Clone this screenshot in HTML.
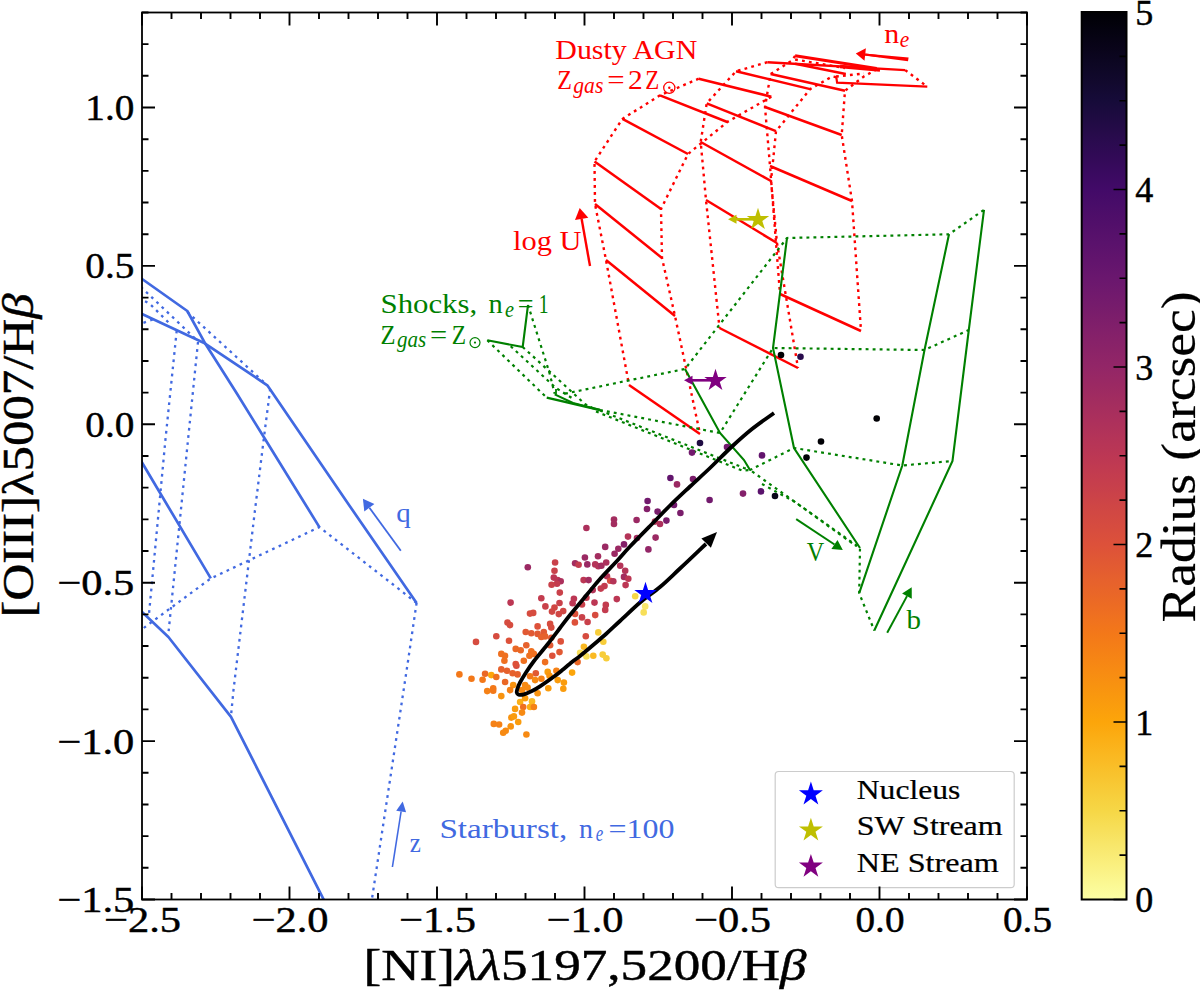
<!DOCTYPE html>
<html><head><meta charset="utf-8"><title>BPT diagram</title>
<style>html,body{margin:0;padding:0;background:#fff;}body{width:1200px;height:990px;overflow:hidden;font-family:"Liberation Serif",serif;}svg text{font-family:"Liberation Serif",serif;}</style></head>
<body>
<svg width="1200" height="990" viewBox="0 0 1200 990" font-family='"Liberation Serif", serif' style="display:block">
<defs><clipPath id="ax"><rect x="142.0" y="12.5" width="885.0" height="887.0"/></clipPath></defs>
<g clip-path="url(#ax)">
<polyline points="120.0,263.3 141.4,278.5 187.3,311.0 204.7,342.7 236.7,393.3 265.0,439.0 319.4,527.1" fill="none" stroke="#4169E1" stroke-width="2.7" stroke-linecap="butt" stroke-linejoin="round" />
<polyline points="120.0,303.7 142.0,314.0 204.7,343.3 267.3,385.3 349.7,506.0 416.6,602.9" fill="none" stroke="#4169E1" stroke-width="2.7" stroke-linecap="butt" stroke-linejoin="round" />
<polyline points="120.0,425.5 141.4,461.5 210.8,578.4" fill="none" stroke="#4169E1" stroke-width="2.7" stroke-linecap="butt" stroke-linejoin="round" />
<polyline points="128.0,600.0 142.3,612.2 168.4,637.0 231.0,716.8 323.2,898.6 334.0,920.0" fill="none" stroke="#4169E1" stroke-width="2.7" stroke-linecap="butt" stroke-linejoin="round" />
<polyline points="187.3,312.0 267.3,385.3" fill="none" stroke="#4169E1" stroke-width="2.3" stroke-dasharray="2.7 4.5" stroke-linecap="butt" stroke-linejoin="round" />
<polyline points="120.0,267.0 142.0,288.0 198.0,341.3" fill="none" stroke="#4169E1" stroke-width="2.3" stroke-dasharray="2.7 4.5" stroke-linecap="butt" stroke-linejoin="round" />
<polyline points="120.0,287.0 150.0,304.0 171.0,325.0" fill="none" stroke="#4169E1" stroke-width="2.3" stroke-dasharray="2.7 4.5" stroke-linecap="butt" stroke-linejoin="round" />
<polyline points="130.0,328.0 142.0,323.3 156.0,318.4" fill="none" stroke="#4169E1" stroke-width="2.3" stroke-dasharray="2.7 4.5" stroke-linecap="butt" stroke-linejoin="round" />
<polyline points="176.7,330.7 165.4,440.0 149.0,614.0" fill="none" stroke="#4169E1" stroke-width="2.3" stroke-dasharray="2.7 4.5" stroke-linecap="butt" stroke-linejoin="round" />
<polyline points="198.0,342.0 188.0,440.0 168.2,635.5" fill="none" stroke="#4169E1" stroke-width="2.3" stroke-dasharray="2.7 4.5" stroke-linecap="butt" stroke-linejoin="round" />
<polyline points="270.2,388.8 264.0,437.0 255.0,510.0 233.5,690.0 231.0,716.0" fill="none" stroke="#4169E1" stroke-width="2.3" stroke-dasharray="2.7 4.5" stroke-linecap="butt" stroke-linejoin="round" />
<polyline points="416.6,602.9 319.4,527.1 210.8,578.4 145.0,627.0 130.0,640.0" fill="none" stroke="#4169E1" stroke-width="2.3" stroke-dasharray="2.7 4.5" stroke-linecap="butt" stroke-linejoin="round" />
<polyline points="416.6,602.9 407.8,662.5 372.4,896.0 368.8,920.0" fill="none" stroke="#4169E1" stroke-width="2.3" stroke-dasharray="2.7 4.5" stroke-linecap="butt" stroke-linejoin="round" />
<polyline points="698.7,78.7 660.0,95.3 622.4,118.9 594.5,161.5 595.0,204.0 606.0,260.0 629.0,385.0" fill="none" stroke="#FF0000" stroke-width="2.4" stroke-dasharray="2.8 4.2" stroke-linecap="butt" stroke-linejoin="round" />
<polyline points="771.3,96.7 727.3,122.0 688.0,154.0 661.0,209.0 662.0,258.0 675.0,316.0 700.0,434.0" fill="none" stroke="#FF0000" stroke-width="2.4" stroke-dasharray="2.8 4.2" stroke-linecap="butt" stroke-linejoin="round" />
<polyline points="767.4,62.2 736.0,71.3 706.7,103.3 700.7,142.0 706.0,200.0 719.5,328.0" fill="none" stroke="#FF0000" stroke-width="2.4" stroke-dasharray="2.8 4.2" stroke-linecap="butt" stroke-linejoin="round" />
<polyline points="836.3,77.2 832.3,76.4 810.2,89.1 776.0,131.2 771.0,181.0 777.0,243.0 798.0,368.0" fill="none" stroke="#FF0000" stroke-width="2.4" stroke-dasharray="2.8 4.2" stroke-linecap="butt" stroke-linejoin="round" />
<polyline points="795.1,55.8 792.0,60.6 770.6,74.0 765.0,107.0 770.0,166.0 780.0,294.0" fill="none" stroke="#FF0000" stroke-width="2.4" stroke-dasharray="2.8 4.2" stroke-linecap="butt" stroke-linejoin="round" />
<polyline points="876.7,69.3 864.0,76.4 845.0,90.7 841.7,135.0 852.0,201.0 861.0,331.0" fill="none" stroke="#FF0000" stroke-width="2.4" stroke-dasharray="2.8 4.2" stroke-linecap="butt" stroke-linejoin="round" />
<polyline points="905.2,70.1 927.3,86.7" fill="none" stroke="#FF0000" stroke-width="2.4" stroke-dasharray="2.8 4.2" stroke-linecap="butt" stroke-linejoin="round" />
<polyline points="795.1,59.5 845.0,68.0" fill="none" stroke="#FF0000" stroke-width="2.4" stroke-dasharray="2.8 4.2" stroke-linecap="butt" stroke-linejoin="round" />
<polyline points="836.0,76.5 864.0,73.5" fill="none" stroke="#FF0000" stroke-width="2.4" stroke-dasharray="2.8 4.2" stroke-linecap="butt" stroke-linejoin="round" />
<polyline points="698.7,78.7 771.3,96.7" fill="none" stroke="#FF0000" stroke-width="2.5" stroke-linecap="butt" stroke-linejoin="round" />
<polyline points="660.0,95.3 727.3,122.0" fill="none" stroke="#FF0000" stroke-width="2.5" stroke-linecap="butt" stroke-linejoin="round" />
<polyline points="622.4,118.9 688.0,154.0" fill="none" stroke="#FF0000" stroke-width="2.5" stroke-linecap="butt" stroke-linejoin="round" />
<polyline points="594.5,161.5 661.0,209.0" fill="none" stroke="#FF0000" stroke-width="2.5" stroke-linecap="butt" stroke-linejoin="round" />
<polyline points="595.0,204.0 662.0,258.0" fill="none" stroke="#FF0000" stroke-width="2.5" stroke-linecap="butt" stroke-linejoin="round" />
<polyline points="606.0,260.0 675.0,316.0" fill="none" stroke="#FF0000" stroke-width="2.5" stroke-linecap="butt" stroke-linejoin="round" />
<polyline points="629.0,385.0 700.0,434.0" fill="none" stroke="#FF0000" stroke-width="2.5" stroke-linecap="butt" stroke-linejoin="round" />
<polyline points="736.0,71.3 810.2,89.1" fill="none" stroke="#FF0000" stroke-width="2.5" stroke-linecap="butt" stroke-linejoin="round" />
<polyline points="706.7,103.3 776.0,131.2" fill="none" stroke="#FF0000" stroke-width="2.5" stroke-linecap="butt" stroke-linejoin="round" />
<polyline points="700.7,142.0 771.0,181.0" fill="none" stroke="#FF0000" stroke-width="2.5" stroke-linecap="butt" stroke-linejoin="round" />
<polyline points="706.0,200.0 777.0,243.0" fill="none" stroke="#FF0000" stroke-width="2.5" stroke-linecap="butt" stroke-linejoin="round" />
<polyline points="719.5,328.0 798.0,368.0" fill="none" stroke="#FF0000" stroke-width="2.5" stroke-linecap="butt" stroke-linejoin="round" />
<polyline points="770.6,74.0 845.0,90.7" fill="none" stroke="#FF0000" stroke-width="2.5" stroke-linecap="butt" stroke-linejoin="round" />
<polyline points="765.0,107.0 841.7,135.0" fill="none" stroke="#FF0000" stroke-width="2.5" stroke-linecap="butt" stroke-linejoin="round" />
<polyline points="770.0,166.0 852.0,201.0" fill="none" stroke="#FF0000" stroke-width="2.5" stroke-linecap="butt" stroke-linejoin="round" />
<polyline points="780.0,294.0 861.0,331.0" fill="none" stroke="#FF0000" stroke-width="2.5" stroke-linecap="butt" stroke-linejoin="round" />
<polyline points="795.1,55.8 876.7,68.5" fill="none" stroke="#FF0000" stroke-width="3.0" stroke-linecap="butt" stroke-linejoin="round" />
<polyline points="767.4,62.2 905.2,70.1" fill="none" stroke="#FF0000" stroke-width="2.4" stroke-linecap="butt" stroke-linejoin="round" />
<polyline points="795.1,63.7 845.8,74.0" fill="none" stroke="#FF0000" stroke-width="2.4" stroke-linecap="butt" stroke-linejoin="round" />
<polyline points="836.3,77.2 837.1,82.7 927.3,86.7" fill="none" stroke="#FF0000" stroke-width="2.2" stroke-linecap="butt" stroke-linejoin="miter" />
<polyline points="840.0,66.5 880.0,70.0" fill="none" stroke="#FF0000" stroke-width="3.5" stroke-linecap="butt" stroke-linejoin="round" />
<polyline points="528.0,305.0 549.3,372.3 554.7,393.7" fill="none" stroke="#008000" stroke-width="2.2" stroke-dasharray="2.9 4.1" stroke-linecap="butt" stroke-linejoin="round" />
<polyline points="565.0,393.7 629.3,380.3 685.0,369.0 787.0,238.0 949.0,234.3 984.0,209.8" fill="none" stroke="#008000" stroke-width="2.2" stroke-dasharray="2.9 4.1" stroke-linecap="butt" stroke-linejoin="round" />
<polyline points="522.7,347.0 552.0,373.7 585.3,404.3 596.0,409.7" fill="none" stroke="#008000" stroke-width="2.2" stroke-dasharray="2.9 4.1" stroke-linecap="butt" stroke-linejoin="round" />
<polyline points="600.0,410.0 720.0,433.0 773.0,348.0 924.5,350.0 968.8,330.0" fill="none" stroke="#008000" stroke-width="2.2" stroke-dasharray="2.9 4.1" stroke-linecap="butt" stroke-linejoin="round" />
<polyline points="510.7,346.3 556.0,388.0 575.0,400.0" fill="none" stroke="#008000" stroke-width="2.2" stroke-dasharray="2.9 4.1" stroke-linecap="butt" stroke-linejoin="round" />
<polyline points="600.0,410.5 744.0,468.0 750.0,470.0 794.0,448.0 902.3,465.5 952.5,461.0" fill="none" stroke="#008000" stroke-width="2.2" stroke-dasharray="2.9 4.1" stroke-linecap="butt" stroke-linejoin="round" />
<polyline points="487.3,340.3 545.3,396.3" fill="none" stroke="#008000" stroke-width="2.2" stroke-dasharray="2.9 4.1" stroke-linecap="butt" stroke-linejoin="round" />
<polyline points="596.0,411.5 742.0,470.5 750.0,470.0 860.0,548.0 859.2,593.2 874.3,630.5" fill="none" stroke="#008000" stroke-width="2.2" stroke-dasharray="2.9 4.1" stroke-linecap="butt" stroke-linejoin="round" />
<polyline points="762.0,484.0 795.0,502.0 856.0,546.0" fill="none" stroke="#008000" stroke-width="2.2" stroke-dasharray="2.9 4.1" stroke-linecap="butt" stroke-linejoin="round" />
<polyline points="487.3,340.3 522.7,347.0 528.0,305.0" fill="none" stroke="#008000" stroke-width="2.1" stroke-linecap="butt" stroke-linejoin="miter" />
<polyline points="685.0,369.0 720.0,433.0 744.0,460.0 750.0,470.0" fill="none" stroke="#008000" stroke-width="2.1" stroke-linecap="butt" stroke-linejoin="miter" />
<polyline points="787.0,238.0 773.0,348.0 794.0,448.0 860.0,548.0" fill="none" stroke="#008000" stroke-width="2.1" stroke-linecap="butt" stroke-linejoin="miter" />
<polyline points="949.0,234.3 924.5,350.0 902.3,465.5 859.2,593.2" fill="none" stroke="#008000" stroke-width="2.1" stroke-linecap="butt" stroke-linejoin="miter" />
<polyline points="984.0,209.8 968.8,330.0 952.5,461.0 874.3,630.5" fill="none" stroke="#008000" stroke-width="2.1" stroke-linecap="butt" stroke-linejoin="miter" />
<polyline points="546.7,397.7 600.0,410.0" fill="none" stroke="#008000" stroke-width="2.4" stroke-linecap="butt" stroke-linejoin="round" />
<polyline points="554.7,394.3 573.0,403.0 600.0,410.0" fill="none" stroke="#008000" stroke-width="2.0" stroke-linecap="butt" stroke-linejoin="round" />
<polyline points="556.0,389.0 556.0,394.5" fill="none" stroke="#008000" stroke-width="1.8" stroke-linecap="butt" stroke-linejoin="round" />
</g>
<line x1="400.8" y1="550.8" x2="369.4" y2="507.7" stroke="#4169E1" stroke-width="1.8"/>
<polygon points="362.9,498.8 374.4,504.0 364.3,511.4" fill="#4169E1"/>
<line x1="392.4" y1="867.0" x2="401.1" y2="811.5" stroke="#4169E1" stroke-width="1.6"/>
<polygon points="402.7,801.6 406.1,812.3 396.2,810.7" fill="#4169E1"/>
<line x1="590.0" y1="266.0" x2="581.6" y2="218.8" stroke="#FF0000" stroke-width="2.4"/>
<polygon points="579.7,208.0 588.3,217.7 575.0,220.0" fill="#FF0000"/>
<line x1="880.0" y1="56.2" x2="865.2" y2="54.6" stroke="#FF0000" stroke-width="2.0"/>
<polygon points="855.8,53.5 865.9,48.3 864.5,60.8" fill="#FF0000"/>
<polygon points="864,53.4 908.6,57.5 908,61.3 864,55.6" fill="#FF0000"/>
<line x1="796.2" y1="519.2" x2="834.5" y2="544.5" stroke="#008000" stroke-width="2.0"/>
<polygon points="842.8,550.0 831.4,549.1 837.5,539.9" fill="#008000"/>
<line x1="887.2" y1="632.8" x2="907.0" y2="596.1" stroke="#008000" stroke-width="2.0"/>
<polygon points="911.7,587.3 911.8,598.7 902.1,593.5" fill="#008000"/>
<text x="555.3" y="58.7" font-size="27.5" fill="#FF0000" stroke="#FF0000" stroke-width="0.00" text-anchor="start" textLength="142.0" lengthAdjust="spacingAndGlyphs" >Dusty AGN</text>
<text x="557.3" y="89.3" font-size="27.5" fill="#FF0000" stroke="#FF0000" stroke-width="0.00" text-anchor="start" textLength="14.7" lengthAdjust="spacingAndGlyphs" >Z</text>
<text x="573.3" y="92.9" font-size="23.5" fill="#FF0000" stroke="#FF0000" stroke-width="0.00" text-anchor="start" textLength="30.0" lengthAdjust="spacingAndGlyphs" font-style="italic" >gas</text>
<text x="607.3" y="89.3" font-size="27.5" fill="#FF0000" stroke="#FF0000" stroke-width="0.00" text-anchor="start" textLength="17.4" lengthAdjust="spacingAndGlyphs" >=</text>
<text x="628.0" y="89.3" font-size="27.5" fill="#FF0000" stroke="#FF0000" stroke-width="0.00" text-anchor="start" textLength="14.7" lengthAdjust="spacingAndGlyphs" >2</text>
<text x="645.3" y="89.3" font-size="27.5" fill="#FF0000" stroke="#FF0000" stroke-width="0.00" text-anchor="start" textLength="14.0" lengthAdjust="spacingAndGlyphs" >Z</text>
<circle cx="669.3" cy="87.8" r="5.6" fill="none" stroke="#FF0000" stroke-width="1.3"/>
<circle cx="669.3" cy="87.8" r="1.2" fill="#FF0000"/>
<text x="380.5" y="313.0" font-size="27.5" fill="#008000" stroke="#008000" stroke-width="0.00" text-anchor="start" textLength="96.7" lengthAdjust="spacingAndGlyphs" >Shocks,</text>
<text x="488.5" y="313.0" font-size="27.5" fill="#008000" stroke="#008000" stroke-width="0.00" text-anchor="start" textLength="14.2" lengthAdjust="spacingAndGlyphs" >n</text>
<text x="505.0" y="316.9" font-size="23.5" fill="#008000" stroke="#008000" stroke-width="0.00" text-anchor="start" textLength="9.0" lengthAdjust="spacingAndGlyphs" font-style="italic" >e</text>
<text x="517.7" y="313.0" font-size="27.5" fill="#008000" stroke="#008000" stroke-width="0.00" text-anchor="start" textLength="15.8" lengthAdjust="spacingAndGlyphs" >=</text>
<text x="538.7" y="313.0" font-size="27.5" fill="#008000" stroke="#008000" stroke-width="0.00" text-anchor="start" textLength="9.8" lengthAdjust="spacingAndGlyphs" >1</text>
<text x="380.5" y="343.7" font-size="27.5" fill="#008000" stroke="#008000" stroke-width="0.00" text-anchor="start" textLength="15.0" lengthAdjust="spacingAndGlyphs" >Z</text>
<text x="397.0" y="347.3" font-size="23.5" fill="#008000" stroke="#008000" stroke-width="0.00" text-anchor="start" textLength="29.2" lengthAdjust="spacingAndGlyphs" font-style="italic" >gas</text>
<text x="430.0" y="343.7" font-size="27.5" fill="#008000" stroke="#008000" stroke-width="0.00" text-anchor="start" textLength="17.2" lengthAdjust="spacingAndGlyphs" >=</text>
<text x="451.7" y="343.7" font-size="27.5" fill="#008000" stroke="#008000" stroke-width="0.00" text-anchor="start" textLength="14.3" lengthAdjust="spacingAndGlyphs" >Z</text>
<circle cx="475.0" cy="342.6" r="5.0" fill="none" stroke="#008000" stroke-width="1.2"/>
<circle cx="475.0" cy="342.6" r="1.1" fill="#008000"/>
<text x="513.0" y="250.0" font-size="27.5" fill="#FF0000" stroke="#FF0000" stroke-width="0.00" text-anchor="start" textLength="68.5" lengthAdjust="spacingAndGlyphs" >log U</text>
<text x="884.2" y="43.3" font-size="27.5" fill="#FF0000" stroke="#FF0000" stroke-width="0.00" text-anchor="start" textLength="15.0" lengthAdjust="spacingAndGlyphs" >n</text>
<text x="899.7" y="46.5" font-size="23.5" fill="#FF0000" stroke="#FF0000" stroke-width="0.00" text-anchor="start" textLength="9.5" lengthAdjust="spacingAndGlyphs" font-style="italic" >e</text>
<text x="806.7" y="560.5" font-size="27.5" fill="#008000" stroke="#008000" stroke-width="0.00" text-anchor="start" textLength="17.5" lengthAdjust="spacingAndGlyphs" >V</text>
<text x="906.5" y="629.3" font-size="27.5" fill="#008000" stroke="#008000" stroke-width="0.00" text-anchor="start" textLength="14.5" lengthAdjust="spacingAndGlyphs" >b</text>
<text x="396.3" y="522.0" font-size="27.5" fill="#4169E1" stroke="#4169E1" stroke-width="0.00" text-anchor="start" textLength="14.5" lengthAdjust="spacingAndGlyphs" >q</text>
<text x="409.7" y="851.5" font-size="27.5" fill="#4169E1" stroke="#4169E1" stroke-width="0.00" text-anchor="start" textLength="11.1" lengthAdjust="spacingAndGlyphs" >z</text>
<text x="439.4" y="837.8" font-size="27.5" fill="#4169E1" stroke="#4169E1" stroke-width="0.00" text-anchor="start" textLength="127.9" lengthAdjust="spacingAndGlyphs" >Starburst,</text>
<text x="579.0" y="837.8" font-size="27.5" fill="#4169E1" stroke="#4169E1" stroke-width="0.00" text-anchor="start" textLength="14.0" lengthAdjust="spacingAndGlyphs" >n</text>
<text x="595.7" y="840.6" font-size="23.5" fill="#4169E1" stroke="#4169E1" stroke-width="0.00" text-anchor="start" textLength="7.5" lengthAdjust="spacingAndGlyphs" font-style="italic" >e</text>
<text x="608.6" y="837.8" font-size="27.5" fill="#4169E1" stroke="#4169E1" stroke-width="0.00" text-anchor="start" textLength="65.9" lengthAdjust="spacingAndGlyphs" >=100</text>
<g>
<circle cx="700.0" cy="443.0" r="3.3" fill="#1f0b42"/>
<circle cx="692.0" cy="452.6" r="3.3" fill="#721a6d"/>
<circle cx="727.0" cy="447.0" r="3.3" fill="#721a6d"/>
<circle cx="762.0" cy="455.4" r="3.3" fill="#62146d"/>
<circle cx="670.4" cy="478.0" r="3.3" fill="#62146d"/>
<circle cx="677.0" cy="484.4" r="3.3" fill="#9b2963"/>
<circle cx="693.0" cy="479.0" r="3.3" fill="#7a1d6b"/>
<circle cx="743.0" cy="493.6" r="3.3" fill="#83206a"/>
<circle cx="761.0" cy="491.4" r="3.3" fill="#5a126c"/>
<circle cx="775.0" cy="496.0" r="3.3" fill="#090419"/>
<circle cx="709.6" cy="500.0" r="3.3" fill="#721a6d"/>
<circle cx="647.6" cy="501.0" r="3.3" fill="#721a6d"/>
<circle cx="647.0" cy="509.0" r="3.3" fill="#83206a"/>
<circle cx="657.6" cy="511.6" r="3.3" fill="#7a1d6b"/>
<circle cx="674.0" cy="505.0" r="3.3" fill="#721a6d"/>
<circle cx="680.4" cy="513.0" r="3.3" fill="#7a1d6b"/>
<circle cx="666.4" cy="520.6" r="3.3" fill="#7a1d6b"/>
<circle cx="660.0" cy="524.0" r="3.3" fill="#ac305c"/>
<circle cx="655.0" cy="521.6" r="3.3" fill="#b43458"/>
<circle cx="636.6" cy="520.0" r="3.3" fill="#9b2963"/>
<circle cx="614.0" cy="519.6" r="3.3" fill="#a32d5f"/>
<circle cx="614.0" cy="524.0" r="3.3" fill="#a32d5f"/>
<circle cx="586.4" cy="528.0" r="3.3" fill="#ac305c"/>
<circle cx="628.0" cy="536.6" r="3.3" fill="#b43458"/>
<circle cx="637.0" cy="538.0" r="3.3" fill="#a32d5f"/>
<circle cx="655.6" cy="537.6" r="3.3" fill="#9b2963"/>
<circle cx="496.3" cy="636.3" r="3.3" fill="#d64c3f"/>
<circle cx="476.0" cy="641.9" r="3.3" fill="#d64c3f"/>
<circle cx="516.4" cy="665.7" r="3.3" fill="#d64c3f"/>
<circle cx="501.3" cy="669.4" r="3.3" fill="#e6612d"/>
<circle cx="507.0" cy="670.7" r="3.3" fill="#e6612d"/>
<circle cx="512.6" cy="673.2" r="3.3" fill="#e6612d"/>
<circle cx="517.6" cy="674.4" r="3.3" fill="#e6612d"/>
<circle cx="485.1" cy="673.8" r="3.3" fill="#ea6826"/>
<circle cx="491.3" cy="675.1" r="3.3" fill="#fca50a"/>
<circle cx="496.3" cy="677.0" r="3.3" fill="#ef7020"/>
<circle cx="459.4" cy="674.4" r="3.3" fill="#f37819"/>
<circle cx="471.5" cy="678.8" r="3.3" fill="#f37819"/>
<circle cx="482.6" cy="679.8" r="3.3" fill="#f37819"/>
<circle cx="505.1" cy="682.0" r="3.3" fill="#ea6826"/>
<circle cx="535.8" cy="673.2" r="3.3" fill="#e15933"/>
<circle cx="530.1" cy="676.3" r="3.3" fill="#f37819"/>
<circle cx="541.4" cy="678.8" r="3.3" fill="#f58116"/>
<circle cx="535.1" cy="680.1" r="3.3" fill="#f78a13"/>
<circle cx="547.7" cy="671.9" r="3.3" fill="#fa9c0d"/>
<circle cx="549.5" cy="675.7" r="3.3" fill="#f89310"/>
<circle cx="556.4" cy="670.7" r="3.3" fill="#f58116"/>
<circle cx="572.1" cy="672.6" r="3.3" fill="#fca50a"/>
<circle cx="557.7" cy="680.1" r="3.3" fill="#fa9c0d"/>
<circle cx="563.9" cy="682.6" r="3.3" fill="#fa9c0d"/>
<circle cx="563.3" cy="688.8" r="3.3" fill="#fa9c0d"/>
<circle cx="548.3" cy="688.2" r="3.3" fill="#fa9c0d"/>
<circle cx="513.2" cy="685.1" r="3.3" fill="#f89310"/>
<circle cx="510.1" cy="690.1" r="3.3" fill="#f58116"/>
<circle cx="493.2" cy="688.2" r="3.3" fill="#f37819"/>
<circle cx="487.2" cy="691.1" r="3.3" fill="#f58116"/>
<circle cx="493.2" cy="690.7" r="3.3" fill="#f37819"/>
<circle cx="501.3" cy="696.1" r="3.3" fill="#f89310"/>
<circle cx="525.1" cy="685.1" r="3.3" fill="#f78a13"/>
<circle cx="527.6" cy="687.6" r="3.3" fill="#f78a13"/>
<circle cx="522.0" cy="690.1" r="3.3" fill="#f78a13"/>
<circle cx="537.6" cy="693.2" r="3.3" fill="#f89310"/>
<circle cx="520.1" cy="702.0" r="3.3" fill="#fbaf16"/>
<circle cx="525.1" cy="698.2" r="3.3" fill="#fa9c0d"/>
<circle cx="532.0" cy="701.4" r="3.3" fill="#fab922"/>
<circle cx="530.1" cy="707.0" r="3.3" fill="#fbaf16"/>
<circle cx="533.9" cy="707.0" r="3.3" fill="#f58116"/>
<circle cx="523.2" cy="707.0" r="3.3" fill="#ef7020"/>
<circle cx="515.1" cy="708.9" r="3.3" fill="#fa9c0d"/>
<circle cx="522.0" cy="712.6" r="3.3" fill="#f78a13"/>
<circle cx="511.3" cy="717.6" r="3.3" fill="#f89310"/>
<circle cx="513.9" cy="716.4" r="3.3" fill="#fa9c0d"/>
<circle cx="518.2" cy="722.0" r="3.3" fill="#fa9c0d"/>
<circle cx="493.8" cy="723.9" r="3.3" fill="#f58116"/>
<circle cx="499.1" cy="724.5" r="3.3" fill="#f58116"/>
<circle cx="510.7" cy="726.4" r="3.3" fill="#f89310"/>
<circle cx="505.7" cy="730.8" r="3.3" fill="#f78a13"/>
<circle cx="503.2" cy="732.7" r="3.3" fill="#f78a13"/>
<circle cx="526.4" cy="734.5" r="3.3" fill="#f78a13"/>
<circle cx="527.8" cy="567.3" r="3.3" fill="#9b2963"/>
<circle cx="605.2" cy="546.9" r="3.3" fill="#9b2963"/>
<circle cx="624.0" cy="544.4" r="3.3" fill="#83206a"/>
<circle cx="618.3" cy="548.8" r="3.3" fill="#9b2963"/>
<circle cx="614.6" cy="553.8" r="3.3" fill="#9b2963"/>
<circle cx="648.4" cy="549.4" r="3.3" fill="#932667"/>
<circle cx="584.9" cy="557.5" r="3.3" fill="#9b2963"/>
<circle cx="598.0" cy="556.3" r="3.3" fill="#a32d5f"/>
<circle cx="575.1" cy="563.2" r="3.3" fill="#a32d5f"/>
<circle cx="578.6" cy="564.8" r="3.3" fill="#c33c4f"/>
<circle cx="587.3" cy="564.4" r="3.3" fill="#9b2963"/>
<circle cx="595.2" cy="564.4" r="3.3" fill="#b43458"/>
<circle cx="598.3" cy="566.3" r="3.3" fill="#b43458"/>
<circle cx="601.4" cy="565.7" r="3.3" fill="#a32d5f"/>
<circle cx="606.2" cy="562.5" r="3.3" fill="#ac305c"/>
<circle cx="555.1" cy="562.5" r="3.3" fill="#c9414a"/>
<circle cx="554.5" cy="570.7" r="3.3" fill="#c9414a"/>
<circle cx="620.2" cy="565.7" r="3.3" fill="#b43458"/>
<circle cx="625.2" cy="570.7" r="3.3" fill="#b43458"/>
<circle cx="624.0" cy="576.9" r="3.3" fill="#a32d5f"/>
<circle cx="628.3" cy="578.8" r="3.3" fill="#bc3754"/>
<circle cx="625.6" cy="585.1" r="3.3" fill="#bc3754"/>
<circle cx="607.0" cy="576.3" r="3.3" fill="#b43458"/>
<circle cx="610.2" cy="580.7" r="3.3" fill="#d64c3f"/>
<circle cx="613.3" cy="581.3" r="3.3" fill="#b43458"/>
<circle cx="583.6" cy="580.1" r="3.3" fill="#bc3754"/>
<circle cx="588.6" cy="580.1" r="3.3" fill="#a32d5f"/>
<circle cx="553.8" cy="577.6" r="3.3" fill="#bc3754"/>
<circle cx="557.6" cy="580.1" r="3.3" fill="#bc3754"/>
<circle cx="560.7" cy="581.3" r="3.3" fill="#ac305c"/>
<circle cx="557.0" cy="583.8" r="3.3" fill="#c33c4f"/>
<circle cx="551.6" cy="584.8" r="3.3" fill="#c9414a"/>
<circle cx="604.5" cy="586.1" r="3.3" fill="#c33c4f"/>
<circle cx="600.8" cy="588.6" r="3.3" fill="#c33c4f"/>
<circle cx="592.7" cy="590.1" r="3.3" fill="#b43458"/>
<circle cx="559.8" cy="592.6" r="3.3" fill="#c9414a"/>
<circle cx="541.3" cy="598.2" r="3.3" fill="#c33c4f"/>
<circle cx="510.6" cy="602.6" r="3.3" fill="#bc3754"/>
<circle cx="573.9" cy="598.8" r="3.3" fill="#bc3754"/>
<circle cx="572.6" cy="603.2" r="3.3" fill="#bc3754"/>
<circle cx="586.4" cy="597.8" r="3.3" fill="#c33c4f"/>
<circle cx="582.0" cy="604.5" r="3.3" fill="#c9414a"/>
<circle cx="594.5" cy="602.6" r="3.3" fill="#bc3754"/>
<circle cx="605.8" cy="604.9" r="3.3" fill="#c33c4f"/>
<circle cx="605.2" cy="609.9" r="3.3" fill="#c33c4f"/>
<circle cx="616.8" cy="599.1" r="3.3" fill="#bc3754"/>
<circle cx="559.5" cy="603.0" r="3.3" fill="#c9414a"/>
<circle cx="545.4" cy="606.4" r="3.3" fill="#c9414a"/>
<circle cx="554.5" cy="607.6" r="3.3" fill="#d04744"/>
<circle cx="552.0" cy="611.6" r="3.3" fill="#d04744"/>
<circle cx="563.2" cy="611.1" r="3.3" fill="#d04744"/>
<circle cx="558.8" cy="614.1" r="3.3" fill="#d04744"/>
<circle cx="530.0" cy="613.6" r="3.3" fill="#d64c3f"/>
<circle cx="533.2" cy="612.9" r="3.3" fill="#d64c3f"/>
<circle cx="575.1" cy="613.9" r="3.3" fill="#dd513a"/>
<circle cx="582.0" cy="617.4" r="3.3" fill="#c9414a"/>
<circle cx="595.2" cy="615.1" r="3.3" fill="#d64c3f"/>
<circle cx="587.6" cy="622.0" r="3.3" fill="#c9414a"/>
<circle cx="574.9" cy="622.4" r="3.3" fill="#dd513a"/>
<circle cx="507.5" cy="622.6" r="3.3" fill="#d64c3f"/>
<circle cx="510.0" cy="625.1" r="3.3" fill="#d64c3f"/>
<circle cx="537.6" cy="626.4" r="3.3" fill="#dd513a"/>
<circle cx="550.1" cy="623.9" r="3.3" fill="#d64c3f"/>
<circle cx="551.3" cy="627.6" r="3.3" fill="#d64c3f"/>
<circle cx="525.7" cy="632.0" r="3.3" fill="#e15933"/>
<circle cx="531.3" cy="633.3" r="3.3" fill="#e15933"/>
<circle cx="537.6" cy="633.9" r="3.3" fill="#e15933"/>
<circle cx="543.8" cy="632.0" r="3.3" fill="#e15933"/>
<circle cx="545.1" cy="636.4" r="3.3" fill="#e6612d"/>
<circle cx="541.3" cy="637.0" r="3.3" fill="#e6612d"/>
<circle cx="585.8" cy="636.2" r="3.3" fill="#d64c3f"/>
<circle cx="560.7" cy="641.4" r="3.3" fill="#dd513a"/>
<circle cx="509.0" cy="640.8" r="3.3" fill="#dd513a"/>
<circle cx="550.1" cy="645.2" r="3.3" fill="#e15933"/>
<circle cx="551.3" cy="637.7" r="3.3" fill="#e15933"/>
<circle cx="526.3" cy="645.2" r="3.3" fill="#e6612d"/>
<circle cx="515.7" cy="648.9" r="3.3" fill="#ea6826"/>
<circle cx="520.7" cy="650.2" r="3.3" fill="#ea6826"/>
<circle cx="559.5" cy="652.1" r="3.3" fill="#e15933"/>
<circle cx="552.3" cy="655.8" r="3.3" fill="#dd513a"/>
<circle cx="531.3" cy="651.4" r="3.3" fill="#ef7020"/>
<circle cx="529.4" cy="655.8" r="3.3" fill="#ef7020"/>
<circle cx="533.8" cy="653.9" r="3.3" fill="#ef7020"/>
<circle cx="501.3" cy="653.9" r="3.3" fill="#ef7020"/>
<circle cx="505.0" cy="655.8" r="3.3" fill="#ef7020"/>
<circle cx="504.4" cy="660.8" r="3.3" fill="#ef7020"/>
<circle cx="523.8" cy="660.8" r="3.3" fill="#ef7020"/>
<circle cx="545.1" cy="662.1" r="3.3" fill="#ef7020"/>
<circle cx="515.7" cy="664.0" r="3.3" fill="#dd513a"/>
<circle cx="577.6" cy="662.1" r="3.3" fill="#ea6826"/>
<circle cx="635.2" cy="596.3" r="3.3" fill="#f6d746"/>
<circle cx="645.2" cy="606.4" r="3.3" fill="#f8e76c"/>
<circle cx="643.7" cy="612.4" r="3.3" fill="#f7df59"/>
<circle cx="598.3" cy="632.4" r="3.3" fill="#f7cd3a"/>
<circle cx="603.3" cy="641.7" r="3.3" fill="#f7cd3a"/>
<circle cx="583.9" cy="646.7" r="3.3" fill="#fab922"/>
<circle cx="580.1" cy="652.7" r="3.3" fill="#f7df59"/>
<circle cx="586.4" cy="656.4" r="3.3" fill="#f7df59"/>
<circle cx="593.3" cy="655.8" r="3.3" fill="#fab922"/>
<circle cx="602.7" cy="654.6" r="3.3" fill="#f7cd3a"/>
<circle cx="606.4" cy="658.3" r="3.3" fill="#f7cd3a"/>
<circle cx="781.0" cy="355.0" r="3.3" fill="#000004"/>
<circle cx="800.5" cy="356.7" r="3.3" fill="#280b4c"/>
<circle cx="876.7" cy="418.5" r="3.3" fill="#000004"/>
<circle cx="821.0" cy="441.5" r="3.3" fill="#000004"/>
<circle cx="806.5" cy="457.6" r="3.3" fill="#000004"/>
</g>
<path d="M774.0,413.0 C770.3,415.7 759.0,423.4 752.0,429.0 C745.0,434.6 739.0,440.0 732.0,446.5 C725.0,453.0 717.0,461.3 710.0,468.0 C703.0,474.7 696.7,480.2 690.0,486.5 C683.3,492.8 676.7,498.9 670.0,505.5 C663.3,512.1 656.7,519.2 650.0,526.0 C643.3,532.8 635.7,540.5 630.0,546.5 C624.3,552.5 621.0,556.6 616.0,562.0 C611.0,567.4 604.8,573.6 600.0,579.0 C595.2,584.4 592.0,588.5 587.0,594.5 C582.0,600.5 574.5,609.4 570.0,615.0 C565.5,620.6 563.8,623.0 560.0,628.0 C556.2,633.0 551.3,639.5 547.0,645.0 C542.7,650.5 537.5,656.4 534.0,661.0 C530.5,665.6 528.3,668.9 526.0,672.5 C523.7,676.1 521.5,679.7 520.0,682.5 C518.5,685.3 517.7,687.8 517.2,689.5 C516.7,691.2 516.6,691.8 516.8,692.6 C517.0,693.5 517.3,694.3 518.5,694.6 C519.7,694.9 521.8,695.0 524.0,694.4 C526.2,693.8 529.3,692.3 532.0,691.0 C534.7,689.7 536.7,688.6 540.0,686.4 C543.3,684.2 548.7,680.4 552.0,678.0 C555.3,675.6 556.7,674.7 560.0,672.0 C563.3,669.3 568.7,664.7 572.0,662.0 C575.3,659.3 576.7,658.7 580.0,656.0 C583.3,653.3 587.7,649.7 592.0,646.0 C596.3,642.3 601.3,638.2 606.0,634.0 C610.7,629.8 614.3,626.2 620.0,621.0 C625.7,615.8 633.3,608.2 640.0,602.5 C646.7,596.8 653.3,592.7 660.0,587.0 C666.7,581.3 673.3,574.7 680.0,568.5 C686.7,562.3 695.7,553.7 700.0,549.6 C704.3,545.5 705.0,544.9 706.0,544.0" fill="none" stroke="#000" stroke-width="3.8" stroke-linejoin="round"/>
<polygon points="717.0,532.0 710.9,547.7 701.4,538.4" fill="#000"/>
<line x1="758.0" y1="219.3" x2="735.0" y2="219.3" stroke="#BFBF00" stroke-width="2.6"/>
<polygon points="728.0,219.3 736.5,214.8 736.5,223.8" fill="#BFBF00"/>
<polygon points="758.0,207.8 760.6,216.0 769.2,216.0 762.3,221.0 764.9,229.1 758.0,224.1 751.1,229.1 753.7,221.0 746.8,216.0 755.4,216.0" fill="#BFBF00"/>
<line x1="715.5" y1="380.3" x2="691.0" y2="380.3" stroke="#800080" stroke-width="2.6"/>
<polygon points="684.0,380.3 692.5,375.8 692.5,384.8" fill="#800080"/>
<polygon points="715.5,368.8 718.1,377.0 726.7,377.0 719.8,382.0 722.4,390.1 715.5,385.1 708.6,390.1 711.2,382.0 704.3,377.0 712.9,377.0" fill="#800080"/>
<polygon points="645.5,581.8 648.1,590.0 656.7,590.0 649.8,595.0 652.4,603.1 645.5,598.1 638.6,603.1 641.2,595.0 634.3,590.0 642.9,590.0" fill="#0000FF"/>
<rect x="775.2" y="771.5" width="239" height="116.2" rx="3.5" ry="3.5" fill="#fff" fill-opacity="0.8" stroke="#cccccc" stroke-width="1.2"/>
<polygon points="810.9,781.6 813.7,790.3 822.9,790.3 815.5,795.7 818.3,804.4 810.9,799.0 803.5,804.4 806.3,795.7 798.9,790.3 808.1,790.3" fill="#0000FF"/>
<text x="856.8" y="799.2" font-size="27.5" fill="#000" stroke="#000" stroke-width="0.22" text-anchor="start" textLength="103.5" lengthAdjust="spacingAndGlyphs" >Nucleus</text>
<polygon points="810.9,817.7 813.7,826.4 822.9,826.4 815.5,831.8 818.3,840.5 810.9,835.1 803.5,840.5 806.3,831.8 798.9,826.4 808.1,826.4" fill="#BFBF00"/>
<text x="856.8" y="835.3" font-size="27.5" fill="#000" stroke="#000" stroke-width="0.22" text-anchor="start" textLength="145.8" lengthAdjust="spacingAndGlyphs" >SW Stream</text>
<polygon points="810.9,853.9 813.7,862.6 822.9,862.6 815.5,868.0 818.3,876.7 810.9,871.3 803.5,876.7 806.3,868.0 798.9,862.6 808.1,862.6" fill="#800080"/>
<text x="856.8" y="871.5" font-size="27.5" fill="#000" stroke="#000" stroke-width="0.22" text-anchor="start" textLength="142.0" lengthAdjust="spacingAndGlyphs" >NE Stream</text>
<path d="M142.00,899.50L142.00,886.50 M142.00,12.50L142.00,25.50 M171.50,899.50L171.50,893.00 M171.50,12.50L171.50,19.00 M201.00,899.50L201.00,893.00 M201.00,12.50L201.00,19.00 M230.50,899.50L230.50,893.00 M230.50,12.50L230.50,19.00 M260.00,899.50L260.00,893.00 M260.00,12.50L260.00,19.00 M289.50,899.50L289.50,886.50 M289.50,12.50L289.50,25.50 M319.00,899.50L319.00,893.00 M319.00,12.50L319.00,19.00 M348.50,899.50L348.50,893.00 M348.50,12.50L348.50,19.00 M378.00,899.50L378.00,893.00 M378.00,12.50L378.00,19.00 M407.50,899.50L407.50,893.00 M407.50,12.50L407.50,19.00 M437.00,899.50L437.00,886.50 M437.00,12.50L437.00,25.50 M466.50,899.50L466.50,893.00 M466.50,12.50L466.50,19.00 M496.00,899.50L496.00,893.00 M496.00,12.50L496.00,19.00 M525.50,899.50L525.50,893.00 M525.50,12.50L525.50,19.00 M555.00,899.50L555.00,893.00 M555.00,12.50L555.00,19.00 M584.50,899.50L584.50,886.50 M584.50,12.50L584.50,25.50 M614.00,899.50L614.00,893.00 M614.00,12.50L614.00,19.00 M643.50,899.50L643.50,893.00 M643.50,12.50L643.50,19.00 M673.00,899.50L673.00,893.00 M673.00,12.50L673.00,19.00 M702.50,899.50L702.50,893.00 M702.50,12.50L702.50,19.00 M732.00,899.50L732.00,886.50 M732.00,12.50L732.00,25.50 M761.50,899.50L761.50,893.00 M761.50,12.50L761.50,19.00 M791.00,899.50L791.00,893.00 M791.00,12.50L791.00,19.00 M820.50,899.50L820.50,893.00 M820.50,12.50L820.50,19.00 M850.00,899.50L850.00,893.00 M850.00,12.50L850.00,19.00 M879.50,899.50L879.50,886.50 M879.50,12.50L879.50,25.50 M909.00,899.50L909.00,893.00 M909.00,12.50L909.00,19.00 M938.50,899.50L938.50,893.00 M938.50,12.50L938.50,19.00 M968.00,899.50L968.00,893.00 M968.00,12.50L968.00,19.00 M997.50,899.50L997.50,893.00 M997.50,12.50L997.50,19.00 M1027.00,899.50L1027.00,886.50 M1027.00,12.50L1027.00,25.50 M142.00,899.50L155.00,899.50 M1027.00,899.50L1014.00,899.50 M142.00,867.82L148.50,867.82 M1027.00,867.82L1020.50,867.82 M142.00,836.14L148.50,836.14 M1027.00,836.14L1020.50,836.14 M142.00,804.46L148.50,804.46 M1027.00,804.46L1020.50,804.46 M142.00,772.78L148.50,772.78 M1027.00,772.78L1020.50,772.78 M142.00,741.10L155.00,741.10 M1027.00,741.10L1014.00,741.10 M142.00,709.42L148.50,709.42 M1027.00,709.42L1020.50,709.42 M142.00,677.74L148.50,677.74 M1027.00,677.74L1020.50,677.74 M142.00,646.06L148.50,646.06 M1027.00,646.06L1020.50,646.06 M142.00,614.38L148.50,614.38 M1027.00,614.38L1020.50,614.38 M142.00,582.70L155.00,582.70 M1027.00,582.70L1014.00,582.70 M142.00,551.02L148.50,551.02 M1027.00,551.02L1020.50,551.02 M142.00,519.34L148.50,519.34 M1027.00,519.34L1020.50,519.34 M142.00,487.66L148.50,487.66 M1027.00,487.66L1020.50,487.66 M142.00,455.98L148.50,455.98 M1027.00,455.98L1020.50,455.98 M142.00,424.30L155.00,424.30 M1027.00,424.30L1014.00,424.30 M142.00,392.62L148.50,392.62 M1027.00,392.62L1020.50,392.62 M142.00,360.94L148.50,360.94 M1027.00,360.94L1020.50,360.94 M142.00,329.26L148.50,329.26 M1027.00,329.26L1020.50,329.26 M142.00,297.58L148.50,297.58 M1027.00,297.58L1020.50,297.58 M142.00,265.90L155.00,265.90 M1027.00,265.90L1014.00,265.90 M142.00,234.22L148.50,234.22 M1027.00,234.22L1020.50,234.22 M142.00,202.54L148.50,202.54 M1027.00,202.54L1020.50,202.54 M142.00,170.86L148.50,170.86 M1027.00,170.86L1020.50,170.86 M142.00,139.18L148.50,139.18 M1027.00,139.18L1020.50,139.18 M142.00,107.50L155.00,107.50 M1027.00,107.50L1014.00,107.50 M142.00,75.82L148.50,75.82 M1027.00,75.82L1020.50,75.82 M142.00,44.14L148.50,44.14 M1027.00,44.14L1020.50,44.14 M142.00,12.46L148.50,12.46 M1027.00,12.46L1020.50,12.46" stroke="#000" stroke-width="1.9" fill="none"/>
<rect x="142.0" y="12.5" width="885.0" height="887.0" fill="none" stroke="#000" stroke-width="1.8"/>
<text x="104.0" y="932.0" font-size="36.5" fill="#000" stroke="#000" stroke-width="0.44" text-anchor="start" textLength="77.0" lengthAdjust="spacingAndGlyphs" >−2.5</text>
<text x="251.5" y="932.0" font-size="36.5" fill="#000" stroke="#000" stroke-width="0.44" text-anchor="start" textLength="77.0" lengthAdjust="spacingAndGlyphs" >−2.0</text>
<text x="399.0" y="932.0" font-size="36.5" fill="#000" stroke="#000" stroke-width="0.44" text-anchor="start" textLength="77.0" lengthAdjust="spacingAndGlyphs" >−1.5</text>
<text x="546.5" y="932.0" font-size="36.5" fill="#000" stroke="#000" stroke-width="0.44" text-anchor="start" textLength="77.0" lengthAdjust="spacingAndGlyphs" >−1.0</text>
<text x="694.0" y="932.0" font-size="36.5" fill="#000" stroke="#000" stroke-width="0.44" text-anchor="start" textLength="77.0" lengthAdjust="spacingAndGlyphs" >−0.5</text>
<text x="855.5" y="932.0" font-size="36.5" fill="#000" stroke="#000" stroke-width="0.44" text-anchor="start" textLength="49.0" lengthAdjust="spacingAndGlyphs" >0.0</text>
<text x="1003.0" y="932.0" font-size="36.5" fill="#000" stroke="#000" stroke-width="0.44" text-anchor="start" textLength="49.0" lengthAdjust="spacingAndGlyphs" >0.5</text>
<text x="85.3" y="120.0" font-size="36.5" fill="#000" stroke="#000" stroke-width="0.44" text-anchor="start" textLength="49.0" lengthAdjust="spacingAndGlyphs" >1.0</text>
<text x="85.3" y="278.4" font-size="36.5" fill="#000" stroke="#000" stroke-width="0.44" text-anchor="start" textLength="49.0" lengthAdjust="spacingAndGlyphs" >0.5</text>
<text x="85.3" y="436.8" font-size="36.5" fill="#000" stroke="#000" stroke-width="0.44" text-anchor="start" textLength="49.0" lengthAdjust="spacingAndGlyphs" >0.0</text>
<text x="57.3" y="595.2" font-size="36.5" fill="#000" stroke="#000" stroke-width="0.44" text-anchor="start" textLength="77.0" lengthAdjust="spacingAndGlyphs" >−0.5</text>
<text x="57.3" y="753.6" font-size="36.5" fill="#000" stroke="#000" stroke-width="0.44" text-anchor="start" textLength="77.0" lengthAdjust="spacingAndGlyphs" >−1.0</text>
<text x="57.3" y="912.0" font-size="36.5" fill="#000" stroke="#000" stroke-width="0.44" text-anchor="start" textLength="77.0" lengthAdjust="spacingAndGlyphs" >−1.5</text>
<text x="363.5" y="980.3" font-size="45" fill="#000" stroke="#000" stroke-width="0.45" textLength="443" lengthAdjust="spacingAndGlyphs">[NI]<tspan font-style="italic">λλ</tspan>5197,5200/H<tspan font-style="italic">β</tspan></text>
<text transform="translate(33.4,617.5) rotate(-90)" x="0" y="0" font-size="45" fill="#000" stroke="#000" stroke-width="0.45" textLength="324" lengthAdjust="spacingAndGlyphs">[OIII]λ5007/H<tspan font-style="italic">β</tspan></text>
<defs><linearGradient id="cb" x1="0" y1="0" x2="0" y2="1"><stop offset="0.000" stop-color="#000004"/><stop offset="0.020" stop-color="#04020f"/><stop offset="0.040" stop-color="#090419"/><stop offset="0.060" stop-color="#0d0724"/><stop offset="0.080" stop-color="#12092e"/><stop offset="0.100" stop-color="#160b39"/><stop offset="0.120" stop-color="#1f0b42"/><stop offset="0.140" stop-color="#280b4c"/><stop offset="0.160" stop-color="#300a55"/><stop offset="0.180" stop-color="#390a5f"/><stop offset="0.200" stop-color="#420a68"/><stop offset="0.220" stop-color="#4a0d69"/><stop offset="0.240" stop-color="#520f6a"/><stop offset="0.260" stop-color="#5a126c"/><stop offset="0.280" stop-color="#62146d"/><stop offset="0.300" stop-color="#6a176e"/><stop offset="0.320" stop-color="#721a6d"/><stop offset="0.340" stop-color="#7a1d6b"/><stop offset="0.360" stop-color="#83206a"/><stop offset="0.380" stop-color="#8b2368"/><stop offset="0.400" stop-color="#932667"/><stop offset="0.420" stop-color="#9b2963"/><stop offset="0.440" stop-color="#a32d5f"/><stop offset="0.460" stop-color="#ac305c"/><stop offset="0.480" stop-color="#b43458"/><stop offset="0.500" stop-color="#bc3754"/><stop offset="0.520" stop-color="#c33c4f"/><stop offset="0.540" stop-color="#c9414a"/><stop offset="0.560" stop-color="#d04744"/><stop offset="0.580" stop-color="#d64c3f"/><stop offset="0.600" stop-color="#dd513a"/><stop offset="0.620" stop-color="#e15933"/><stop offset="0.640" stop-color="#e6612d"/><stop offset="0.660" stop-color="#ea6826"/><stop offset="0.680" stop-color="#ef7020"/><stop offset="0.700" stop-color="#f37819"/><stop offset="0.720" stop-color="#f58116"/><stop offset="0.740" stop-color="#f78a13"/><stop offset="0.760" stop-color="#f89310"/><stop offset="0.780" stop-color="#fa9c0d"/><stop offset="0.800" stop-color="#fca50a"/><stop offset="0.820" stop-color="#fbaf16"/><stop offset="0.840" stop-color="#fab922"/><stop offset="0.860" stop-color="#f8c32e"/><stop offset="0.880" stop-color="#f7cd3a"/><stop offset="0.900" stop-color="#f6d746"/><stop offset="0.920" stop-color="#f7df59"/><stop offset="0.940" stop-color="#f8e76c"/><stop offset="0.960" stop-color="#faef7e"/><stop offset="0.980" stop-color="#fbf791"/><stop offset="1.000" stop-color="#fcffa4"/></linearGradient></defs>
<rect x="1081.7" y="12.0" width="44.799999999999955" height="887.5" fill="url(#cb)"/>
<path d="M1126.5,899.50L1113.5,899.50 M1126.5,855.12L1119.5,855.12 M1126.5,810.75L1119.5,810.75 M1126.5,766.38L1119.5,766.38 M1126.5,722.00L1113.5,722.00 M1126.5,677.62L1119.5,677.62 M1126.5,633.25L1119.5,633.25 M1126.5,588.88L1119.5,588.88 M1126.5,544.50L1113.5,544.50 M1126.5,500.12L1119.5,500.12 M1126.5,455.75L1119.5,455.75 M1126.5,411.38L1119.5,411.38 M1126.5,367.00L1113.5,367.00 M1126.5,322.62L1119.5,322.62 M1126.5,278.25L1119.5,278.25 M1126.5,233.88L1119.5,233.88 M1126.5,189.50L1113.5,189.50 M1126.5,145.12L1119.5,145.12 M1126.5,100.75L1119.5,100.75 M1126.5,56.38L1119.5,56.38 M1126.5,12.00L1113.5,12.00" stroke="#000" stroke-width="1.7" fill="none"/>
<rect x="1081.7" y="12.0" width="44.799999999999955" height="887.5" fill="none" stroke="#000" stroke-width="2.0"/>
<text x="1135.3" y="912.0" font-size="36.5" fill="#000" stroke="#000" stroke-width="0.44" text-anchor="start" textLength="18.0" lengthAdjust="spacingAndGlyphs" >0</text>
<text x="1135.3" y="734.5" font-size="36.5" fill="#000" stroke="#000" stroke-width="0.44" text-anchor="start" textLength="18.0" lengthAdjust="spacingAndGlyphs" >1</text>
<text x="1135.3" y="557.0" font-size="36.5" fill="#000" stroke="#000" stroke-width="0.44" text-anchor="start" textLength="18.0" lengthAdjust="spacingAndGlyphs" >2</text>
<text x="1135.3" y="379.5" font-size="36.5" fill="#000" stroke="#000" stroke-width="0.44" text-anchor="start" textLength="18.0" lengthAdjust="spacingAndGlyphs" >3</text>
<text x="1135.3" y="202.0" font-size="36.5" fill="#000" stroke="#000" stroke-width="0.44" text-anchor="start" textLength="18.0" lengthAdjust="spacingAndGlyphs" >4</text>
<text x="1135.3" y="24.5" font-size="36.5" fill="#000" stroke="#000" stroke-width="0.44" text-anchor="start" textLength="18.0" lengthAdjust="spacingAndGlyphs" >5</text>
<text transform="translate(1194.6,622.5) rotate(-90)" x="0" y="0" font-size="49" fill="#000" stroke="#000" stroke-width="0.2" textLength="331" lengthAdjust="spacingAndGlyphs">Radius (arcsec)</text>
</svg>
</body></html>
